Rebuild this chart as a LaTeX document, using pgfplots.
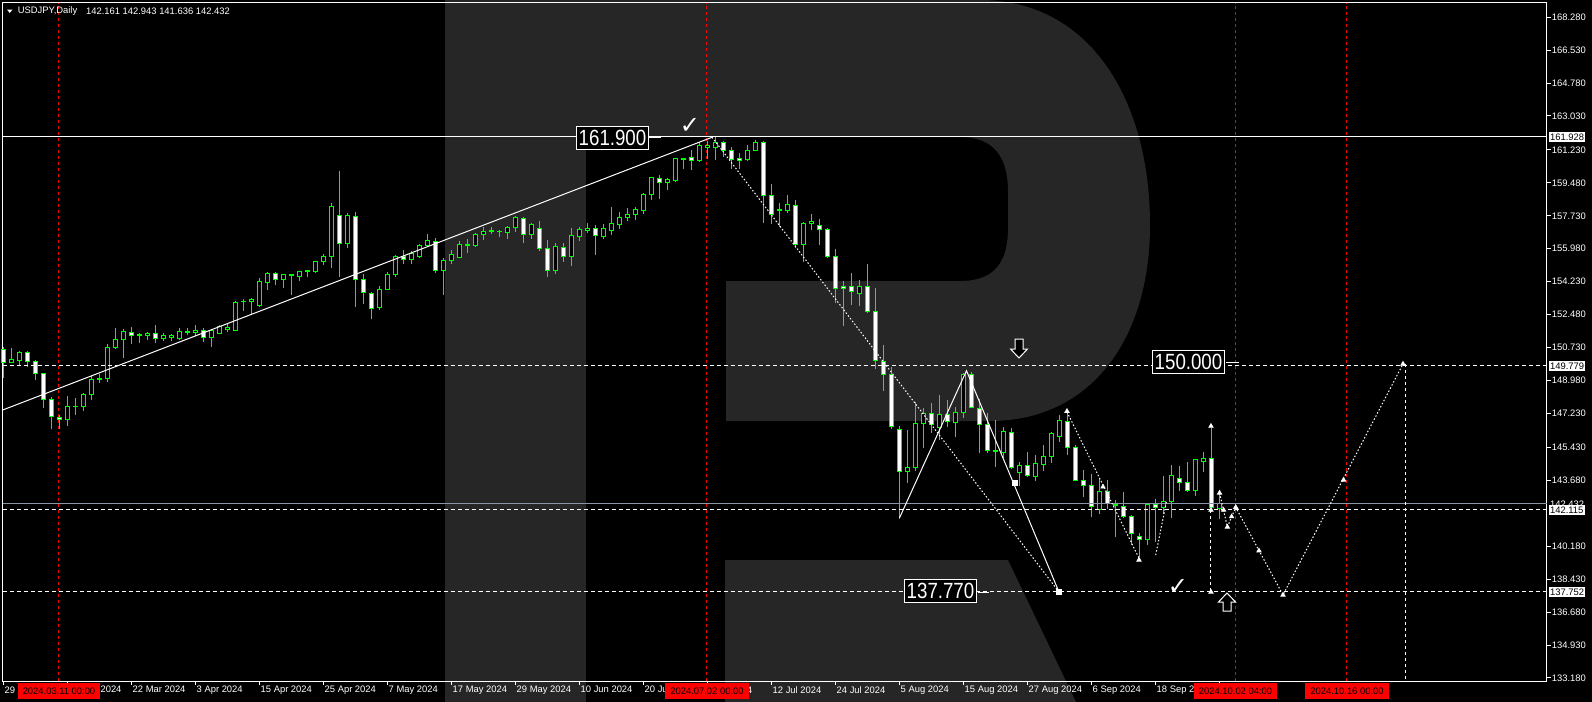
\documentclass[border=0pt]{standalone}
\usepackage{pgfplots}
\pgfplotsset{compat=1.18}
\usepackage{pgfplotstable}
\usepackage{graphicx}
\usepackage{fontspec}
\setmainfont{Liberation Sans}
\newfontfamily\symfont{DejaVu Sans}
\definecolor{cgreen}{RGB}{0,255,0}
\definecolor{logo}{RGB}{38,38,38}
\definecolor{bidline}{RGB}{136,150,168}
\newcommand\sm{\fontsize{4.7pt}{5.6pt}\selectfont}
\newcommand\bigf{\fontsize{11pt}{13pt}\selectfont}

% USDJPY daily bars: index, open, high, low, close
\pgfplotstableread{
i o h l c
0 150.64 150.76 149.13 149.95
1 149.95 150.69 149.90 150.12
2 150.03 150.55 149.75 150.48
3 150.48 150.55 149.68 149.98
4 150.00 150.07 149.01 149.36
5 149.36 149.40 147.52 147.98
6 147.98 148.09 146.42 147.06
7 147.04 147.13 146.42 146.92
8 146.92 148.16 146.57 147.61
9 147.59 148.05 147.15 147.61
10 147.61 148.33 147.38 148.25
11 148.25 149.22 147.95 149.01
12 149.05 149.33 148.87 149.10
13 149.08 150.92 148.92 150.75
14 150.72 151.77 150.66 151.17
15 151.17 151.72 150.18 151.59
16 151.54 151.82 150.92 151.36
17 151.38 151.52 150.99 151.40
18 151.38 151.57 151.13 151.49
19 151.49 151.95 150.99 151.20
20 151.22 151.50 151.10 151.35
21 151.29 151.47 151.08 151.35
22 151.20 151.75 151.13 151.57
23 151.54 151.75 151.40 151.59
24 151.52 151.91 151.35 151.65
25 151.65 151.77 151.03 151.28
26 151.25 151.70 150.78 151.61
27 151.49 151.95 151.45 151.84
28 151.68 151.97 151.54 151.81
29 151.66 153.22 151.63 153.14
30 153.15 153.29 152.69 153.19
31 153.19 153.38 152.51 153.26
32 152.95 154.43 152.89 154.25
33 154.20 154.74 153.80 154.68
34 154.68 154.73 154.05 154.36
35 154.36 154.62 153.91 154.62
36 154.55 154.62 153.54 154.62
37 154.49 154.78 154.28 154.78
38 154.78 154.87 154.49 154.81
39 154.78 155.34 154.68 155.31
40 155.31 155.68 155.13 155.59
41 155.56 158.39 154.94 158.21
42 157.73 160.11 154.46 156.27
43 156.27 157.86 156.00 157.73
44 157.68 157.92 152.90 154.37
45 154.34 154.62 153.04 153.67
46 153.59 153.67 152.23 152.82
47 152.87 154.00 152.73 153.83
48 153.83 154.74 153.80 154.62
49 154.62 155.66 154.46 155.59
50 155.59 155.91 155.17 155.42
51 155.42 155.88 155.17 155.74
52 155.58 156.25 155.47 156.16
53 156.14 156.76 156.06 156.39
54 156.35 156.55 154.68 154.81
55 154.81 155.49 153.54 155.34
56 155.34 155.91 155.17 155.68
57 155.50 156.39 155.47 156.22
58 156.14 156.50 155.74 156.22
59 156.14 156.80 156.06 156.75
60 156.73 157.15 156.44 156.91
61 156.91 157.15 156.75 156.94
62 156.88 156.98 156.59 156.91
63 156.85 157.19 156.50 157.12
64 157.12 157.70 156.85 157.65
65 157.60 157.65 156.30 156.75
66 156.75 157.33 156.50 157.24
67 157.07 157.47 155.88 156.00
68 156.00 156.44 154.49 154.81
69 154.81 156.27 154.64 156.11
70 156.06 156.27 155.29 155.56
71 155.56 157.07 155.08 156.69
72 156.62 157.12 156.37 156.98
73 156.96 157.33 156.80 157.08
74 157.08 157.22 155.65 156.67
75 156.62 157.29 156.50 157.03
76 156.94 158.18 156.71 157.33
77 157.24 157.93 157.01 157.65
78 157.63 158.13 157.47 157.81
79 157.79 158.18 157.51 158.04
80 158.00 158.96 157.82 158.87
81 158.87 159.81 158.57 159.77
82 159.72 159.90 158.64 159.51
83 159.51 159.75 159.10 159.65
84 159.58 160.81 159.54 160.78
85 160.73 160.81 160.21 160.78
86 160.85 161.22 160.16 160.68
87 160.66 161.66 160.60 161.44
88 161.37 161.72 160.73 161.44
89 161.37 161.93 160.69 161.61
90 161.63 161.70 160.87 161.21
91 161.21 161.37 160.23 160.73
92 160.78 161.05 160.20 160.68
93 160.71 161.47 160.66 161.21
94 161.21 161.75 161.19 161.63
95 161.63 161.70 157.36 158.82
96 158.82 159.42 157.29 157.81
97 158.07 158.39 157.12 158.02
98 158.00 158.83 157.89 158.34
99 158.29 158.57 156.00 156.22
100 156.22 157.42 155.29 157.33
101 157.33 157.82 156.98 157.44
102 157.22 157.56 156.19 157.01
103 157.01 157.10 155.50 155.58
104 155.58 155.97 153.08 153.88
105 153.98 154.27 151.89 153.88
106 153.98 154.68 152.99 153.72
107 153.61 154.32 152.95 153.98
108 153.98 155.17 152.58 152.66
109 152.66 153.89 149.58 150.02
110 150.00 150.85 148.44 149.31
111 149.31 149.72 146.39 146.55
112 146.39 146.57 141.66 144.16
113 144.16 146.35 143.55 144.37
114 144.35 147.86 144.19 146.71
115 146.71 147.51 145.38 147.24
116 147.24 147.77 146.21 146.62
117 146.50 148.20 145.82 147.19
118 147.19 147.95 146.53 146.79
119 146.74 147.56 146.00 147.29
120 147.29 149.36 147.01 149.31
121 149.31 149.42 147.50 147.56
122 147.51 148.02 145.15 146.62
123 146.62 147.24 145.15 145.27
124 145.25 146.88 144.40 145.20
125 145.17 146.53 144.85 146.28
126 146.23 146.44 144.28 144.37
127 144.09 144.67 143.38 144.48
128 144.48 145.18 143.84 143.93
129 143.87 145.03 143.64 144.58
130 144.51 145.56 144.18 144.97
131 144.94 146.23 144.62 146.19
132 146.00 147.15 145.73 146.87
133 146.79 147.27 145.03 145.43
134 145.43 145.56 143.66 143.68
135 143.68 144.23 142.81 143.39
136 143.42 144.00 141.75 142.28
137 142.14 143.79 141.89 143.10
138 143.10 143.70 142.16 142.44
139 142.41 142.64 140.69 142.35
140 142.30 143.06 141.68 141.75
141 141.77 141.84 140.23 140.87
142 140.72 140.87 139.62 140.55
143 140.55 142.49 140.25 142.41
144 142.37 142.70 140.42 142.25
145 142.25 143.91 141.89 142.57
146 142.55 144.49 141.70 143.91
147 143.79 144.44 143.13 143.55
148 143.58 144.65 143.06 143.13
149 143.13 144.83 142.86 144.76
150 144.67 145.20 144.14 144.85
151 144.85 146.44 142.01 142.25
152 142.161 142.943 141.636 142.432
}\candles

\begin{document}
\begin{tikzpicture}
\path[use as bounding box] (0,0) rectangle (796pt,-351pt);
\fill[black] (0,0) rectangle (796pt,-351pt);

% background "R" logo, drawn in pixel units
\begin{scope}[x=0.5pt,y=-0.5pt]
  \fill[logo] (445,0) rectangle (586,702);
  \fill[logo] (445,0) -- (980,0) .. controls (1090,0) and (1150,100) .. (1150,225)
     .. controls (1150,340) and (1090,421) .. (990,421) -- (726,421) -- (726,281)
     -- (960,281) .. controls (995,281) and (1008,262) .. (1008,228) -- (1008,192)
     .. controls (1008,158) and (995,137) .. (960,137) -- (445,137) -- cycle;
  \fill[logo] (725,560) -- (1008,560) -- (1076,702) -- (725,702) -- cycle;
\end{scope}

\begin{axis}[
  at={(1.25pt,-1.25pt)}, anchor=north west,
  scale only axis, width=772pt, height=339.25pt,
  xmin=-0.1, xmax=192.9, ymin=133.02, ymax=169.057,
  clip=false,
  axis line style={white, line width=0.5pt},
  tick style={white, line width=0.5pt},
  tick align=outside, major tick length=2pt,
  xtick pos=bottom, ytick pos=right, yticklabel pos=right,
  ytick={133.18,134.93,136.68,138.43,140.18,143.68,145.43,147.23,148.98,150.73,152.48,154.23,155.98,157.73,159.48,161.23,163.03,164.78,166.53,168.28},
  yticklabels={133.180,134.930,136.680,138.430,140.180,143.680,145.430,147.230,148.980,150.730,152.480,154.230,155.980,157.730,159.480,161.230,163.030,164.780,166.530,168.280},
  xtick={0,8,...,152},
  xticklabels={29 Feb 2024,12 Mar 2024,22 Mar 2024,3 Apr 2024,15 Apr 2024,25 Apr 2024,7 May 2024,17 May 2024,29 May 2024,10 Jun 2024,20 Jun 2024,2 Jul 2024,12 Jul 2024,24 Jul 2024,5 Aug 2024,15 Aug 2024,27 Aug 2024,6 Sep 2024,18 Sep 2024,30 Sep 2024},
  tick label style={font=\sm, text=white, inner sep=0.5pt},
  yticklabel style={anchor=west},
  xticklabel style={anchor=north west},
]
% period separators
\foreach \xv in {6.96,87.96,154.03,167.96}{
  \edef\tmp{\noexpand\draw[red, line width=0.5pt, dash pattern=on 1.5pt off 1.5pt] (axis cs:\xv,133.02) -- (axis cs:\xv,169.057);}\tmp
}

% candlesticks: wick from low to high, body between open and close
% (hollow black body = up day, white body = down day)
\pgfplotstablegetrowsof{\candles}
\pgfmathtruncatemacro{\nlast}{\pgfplotsretval-1}
\foreach \k in {0,...,\nlast}{
  \pgfplotstablegetelem{\k}{i}\of\candles \let\ci\pgfplotsretval
  \pgfplotstablegetelem{\k}{o}\of\candles \let\co\pgfplotsretval
  \pgfplotstablegetelem{\k}{h}\of\candles \let\ch\pgfplotsretval
  \pgfplotstablegetelem{\k}{l}\of\candles \let\cl\pgfplotsretval
  \pgfplotstablegetelem{\k}{c}\of\candles \let\cc\pgfplotsretval
  \pgfmathsetmacro{\xl}{\ci-0.25}
  \pgfmathsetmacro{\xr}{\ci+0.25}
  \pgfmathtruncatemacro{\isup}{\cc>\co}
  \ifnum\isup=1 \def\fillc{black}\else\def\fillc{white}\fi
  \edef\tmp{%
    \noexpand\addplot[cgreen, line width=0.5pt] coordinates {(\ci,\cl) (\ci,\ch)};
    \noexpand\addplot[draw=cgreen, fill=\fillc, line width=0.5pt, line join=miter]
      coordinates {(\xl,\co) (\xr,\co) (\xr,\cc) (\xl,\cc) (\xl,\co)};
  }\tmp
}

% horizontal levels
\draw[white, line width=0.5pt] (axis cs:-0.1,161.928) -- (axis cs:192.9,161.928);
\draw[white, line width=0.5pt, dash pattern=on 2pt off 1.5pt] (axis cs:-0.1,149.779) -- (axis cs:192.9,149.779);
\draw[white, line width=0.5pt, dash pattern=on 2pt off 1.5pt] (axis cs:-0.1,142.115) -- (axis cs:192.9,142.115);
\draw[white, line width=0.5pt, dash pattern=on 2pt off 1.5pt] (axis cs:-0.1,137.752) -- (axis cs:192.9,137.752);
\draw[bidline, line width=0.5pt] (axis cs:-0.1,142.432) -- (axis cs:192.9,142.432);

% trend and wave lines
\addplot[white, line width=0.5pt] coordinates {(-0.1,147.41) (88.6,161.90)};
\addplot[white, line width=0.5pt, dash pattern=on 0.75pt off 1pt] coordinates {(88.6,161.90) (131.96,137.75)};
\addplot[white, line width=0.5pt] coordinates {(112.0,141.66) (120.4,149.5) (131.96,137.75)};
\addplot[white, line width=0.5pt, dash pattern=on 0.75pt off 1pt] coordinates {(132.96,147.31) (141.96,139.55)};
\addplot[white, line width=0.5pt, dash pattern=on 0.75pt off 1pt] coordinates {(144.05,139.71) (145.43,142.63)};
\addplot[white, line width=0.5pt, dash pattern=on 0.75pt off 1pt] coordinates {(152.03,143.01) (153.01,141.20) (154.05,142.25) (159.96,137.59) (174.96,149.86)};
\addplot[white, line width=0.5pt, dash pattern=on 1.5pt off 1.5pt] coordinates {(150.96,142.10) (150.96,137.75)};
\addplot[white, line width=0.5pt, dash pattern=on 1.5pt off 1.5pt] coordinates {(175.3,149.86) (175.3,133.02)};

% wave markers
\addplot[only marks, mark=square*, mark size=1.1pt, mark options={draw=white, fill=white}]
  coordinates {(126.46,143.54) (131.96,137.75)};
\addplot[only marks, mark=triangle*, mark size=1.2pt, mark options={draw=white, fill=white}]
  coordinates {(132.96,147.35) (137.46,143.33) (141.96,139.45) (150.96,146.56) (150.96,142.10) (150.96,137.75)
  (152.03,143.01) (152.54,142.10) (153.01,141.20) (153.54,141.75) (154.05,142.25) (156.96,139.94)
  (159.96,137.59) (167.53,143.70) (174.96,149.86)};
\end{axis}

% annotations in pixel units
\begin{scope}[x=0.5pt,y=-0.5pt]
  % title
  \fill[white] (7,9.5) -- (12.5,9.5) -- (9.75,13) -- cycle;
  \node[anchor=west, text=white, font=\sm, inner sep=0] at (17.5,11.3) {USDJPY,Daily};
  \node[anchor=west, text=white, font=\sm, inner sep=0] at (85.7,11.3) {142.161 142.943 141.636 142.432};

  % level captions
  \node[draw=white, line width=0.5pt, fill=black, text=white, inner xsep=1pt, inner ysep=0pt, minimum height=11.5pt] at (612.5,138.3) {\bigf\scalebox{0.85}[1]{161.900}};
  \draw[white, line width=0.5pt] (649.3,137.3) -- (661,137.3);
  \node[draw=white, line width=0.5pt, fill=black, text=white, inner xsep=1pt, inner ysep=0pt, minimum height=11.5pt] at (1188.5,362.3) {\bigf\scalebox{0.85}[1]{150.000}};
  \draw[white, line width=0.5pt] (1226,362.3) -- (1239,362.3);
  \node[draw=white, line width=0.5pt, fill=black, text=white, inner xsep=1pt, inner ysep=0pt, minimum height=11.5pt] at (940.5,591.3) {\bigf\scalebox{0.85}[1]{137.770}};
  \draw[white, line width=0.5pt] (977.8,592) -- (989,592);

  % check marks
  \node[text=white, inner sep=0] at (690,126) {\symfont\fontsize{12pt}{12pt}\selectfont ✓};
  \node[text=white, inner sep=0] at (1178,587) {\symfont\fontsize{12pt}{12pt}\selectfont ✓};

  % hollow arrows
  \filldraw[draw=white, fill=black, line width=0.5pt] (1015,339) -- (1023,339) -- (1023,349) -- (1027.5,349) -- (1019,358) -- (1010.5,349) -- (1015,349) -- cycle;
  \filldraw[draw=white, fill=black, line width=0.5pt] (1227,593) -- (1235.5,602) -- (1231,602) -- (1231,611) -- (1223,611) -- (1223,602) -- (1218.5,602) -- cycle;

  % price tags on the scale
  \node[fill=white, text=black, anchor=west, font=\sm, inner xsep=0.6pt, inner ysep=0.8pt] at (1548.5,137.3) {161.928};
  \node[fill=white, text=black, anchor=west, font=\sm, inner xsep=0.6pt, inner ysep=0.8pt] at (1548.5,366) {149.779};
  \node[text=white, anchor=west, font=\sm, inner xsep=0.6pt, inner ysep=0.8pt] at (1548.5,504.5) {142.432};
  \node[fill=white, text=black, anchor=west, font=\sm, inner xsep=0.6pt, inner ysep=0.8pt] at (1548.5,510.3) {142.115};
  \node[fill=white, text=black, anchor=west, font=\sm, inner xsep=0.6pt, inner ysep=0.8pt] at (1548.5,592) {137.752};

  % date tags on the time scale
  \node[fill=red, text=black, font=\sm, inner xsep=2.5pt, inner ysep=0pt, minimum height=8pt] at (59,691) {2024.03.11 00:00};
  \node[fill=red, text=black, font=\sm, inner xsep=2.5pt, inner ysep=0pt, minimum height=8pt] at (707,691) {2024.07.02 00:00};
  \node[fill=red, text=black, font=\sm, inner xsep=2.5pt, inner ysep=0pt, minimum height=8pt] at (1235.5,691) {2024.10.02 04:00};
  \node[fill=red, text=black, font=\sm, inner xsep=2.5pt, inner ysep=0pt, minimum height=8pt] at (1347,691) {2024.10.16 00:00};
\end{scope}
\end{tikzpicture}
\end{document}
